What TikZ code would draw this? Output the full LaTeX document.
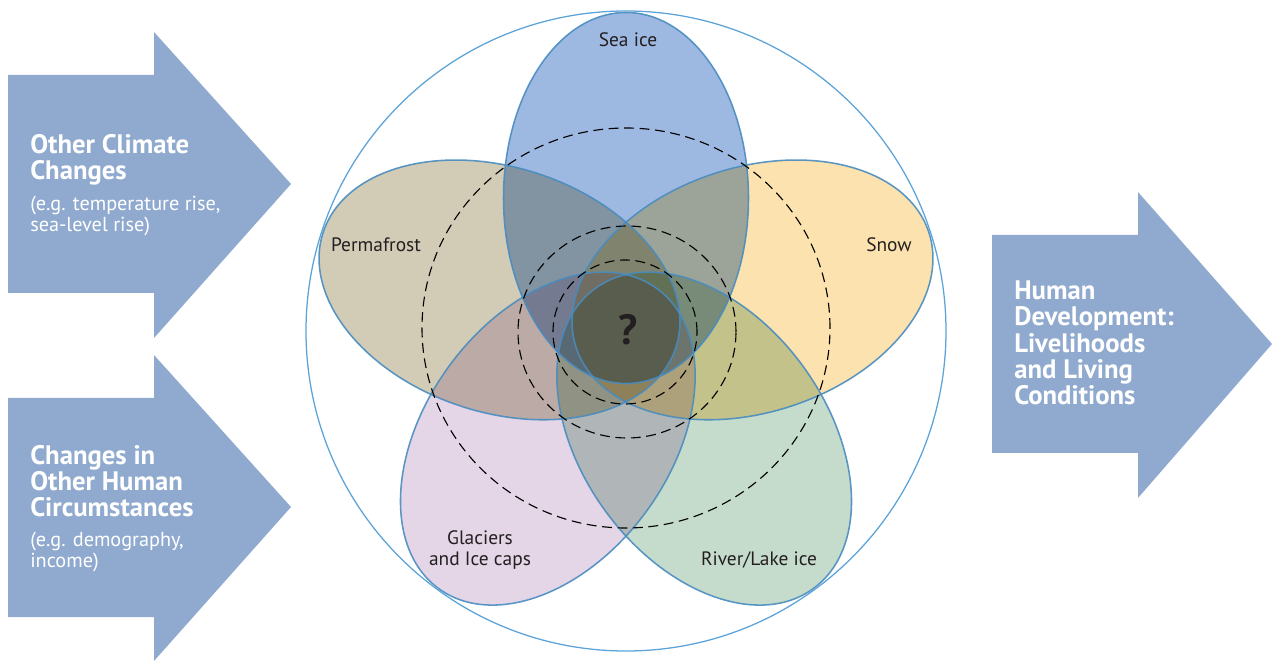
\documentclass[tikz,border=0pt]{standalone}
\usepackage{fontspec}
\setmainfont{PT Sans}
\definecolor{arrowblue}{RGB}{144,170,207}
\definecolor{seaice}{RGB}{158,185,225}
\definecolor{permafrost}{RGB}{210,204,183}
\definecolor{snow}{RGB}{252,226,174}
\definecolor{glacier}{RGB}{228,213,231}
\definecolor{river}{RGB}{197,219,203}
\definecolor{petalline}{RGB}{72,140,192}
\definecolor{ringline}{RGB}{91,163,216}
\definecolor{labeltext}{RGB}{35,31,32}
\begin{document}
\begin{tikzpicture}[x=0.025cm,y=0.025cm,
  arrowshape/.style={fill=arrowblue, draw=none},
  titletxt/.style={text=white, font=\bfseries\fontsize{19}{18.8}\selectfont, align=left, inner sep=0pt, anchor=base west},
  subtxt/.style={text=white, font=\fontsize{14.4}{15}\selectfont, align=left, inner sep=0pt, anchor=base west},
  petalfill/.style={draw=none},
  petalline/.style={draw=petalline, line width=1.1pt, draw opacity=0.9},
  ring/.style={draw=ringline, line width=0.9pt},
  dashring/.style={draw=black, line width=0.8pt, dash pattern=on 7pt off 4pt},
  lbl/.style={text=labeltext, font=\fontsize{13.8}{15}\selectfont, inner sep=0pt, align=center, anchor=base},
  petalshape/.style={x radius=122.5, y radius=185.5}]
\useasboundingbox (0,0) rectangle (1272,-662);
% input arrows
\fill[arrowshape] (8,-75) -- (154,-75) -- (154,-32) -- (291,-184) -- (154,-338) -- (154,-293) -- (8,-293) -- cycle;
\fill[arrowshape] (8,-398) -- (154,-398) -- (154,-355) -- (291,-507) -- (154,-661) -- (154,-617) -- (8,-617) -- cycle;
\fill[arrowshape] (992,-235) -- (1138,-235) -- (1138,-192) -- (1272,-344) -- (1138,-498) -- (1138,-453) -- (992,-453) -- cycle;
% arrow texts (anchored at the baseline of the last line)
\node[titletxt] (t1) at (30,-180) {Other Climate\\Changes};
\node[subtxt] (s1) at (30,-232) {(e.g. temperature rise,\\sea-level rise)};
\node[titletxt] (t2) at (30,-517) {Changes in\\Other Human\\Circumstances};
\node[subtxt] (s2) at (30,-568) {(e.g. demography,\\income)};
\node[titletxt] (t3) at (1014,-405) {Human\\Development:\\Livelihoods\\and Living\\Conditions};
% petal fills
\begin{scope}[shift={(626,-331)}, blend mode=multiply]
  \fill[petalfill, fill=seaice] (0,133) ellipse [petalshape];
  \fill[petalfill, fill=permafrost, rotate=72] (0,133) ellipse [petalshape];
  \fill[petalfill, fill=snow, rotate=-72] (0,133) ellipse [petalshape];
  \fill[petalfill, fill=glacier, rotate=144] (0,133) ellipse [petalshape];
  \fill[petalfill, fill=river, rotate=-144] (0,133) ellipse [petalshape];
\end{scope}
% petal outlines
\begin{scope}[shift={(626,-331)}]
  \draw[petalline] (0,133) ellipse [petalshape];
  \draw[petalline, rotate=72] (0,133) ellipse [petalshape];
  \draw[petalline, rotate=-72] (0,133) ellipse [petalshape];
  \draw[petalline, rotate=144] (0,133) ellipse [petalshape];
  \draw[petalline, rotate=-144] (0,133) ellipse [petalshape];
\end{scope}
% dashed rings
\draw[dashring] (626,-328) ellipse [x radius=204, y radius=200];
\draw[dashring] (627,-332) ellipse [x radius=109, y radius=106];
\draw[dashring] (625,-332) circle [radius=72];
% outer ring
\draw[ring] (626,-331) circle [radius=320];
% labels
\node[lbl] (l1) at (628,-47) {Sea ice};
\node[lbl] (l2) at (376,-252) {Permafrost};
\node[lbl] (l3) at (889,-252) {Snow};
\node[lbl] (l4) at (480,-566) {Glaciers\\and Ice caps};
\node[lbl] (l5) at (759,-566) {River/Lake ice};
\node[text=labeltext, font=\bfseries\fontsize{30}{32}\selectfont, inner sep=0pt, anchor=base] (q) at (628,-345) {?};
\end{tikzpicture}
\end{document}
